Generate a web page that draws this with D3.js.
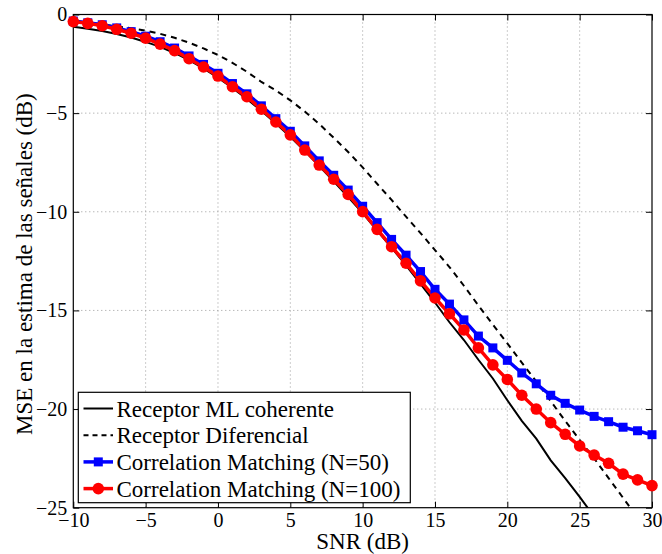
<!DOCTYPE html>
<html>
<head>
<meta charset="utf-8">
<script src="https://cdn.jsdelivr.net/npm/d3@7"></script>
<style>
  html, body { margin: 0; padding: 0; background: #fff; }
  svg { display: block; }
  text { font-family: "Liberation Serif", "Times New Roman", serif; }
</style>
</head>
<body>
<div id="chart"></div>
<script>
// SNR axis, one sample per dB
const snr = d3.range(-10, 31, 1);

// MSE (dB) of the signal estimate for each receiver
const mlCoherente = [-0.62, -0.72, -0.84, -0.99, -1.17, -1.39, -1.64, -1.95, -2.31, -2.73,
  -3.2, -3.72, -4.28, -4.88, -5.52, -6.2, -6.92, -7.68, -8.45, -9.25,
  -10.07, -10.95, -11.82, -12.72, -13.65, -14.6, -15.6, -16.5, -17.5, -18.45,
  -19.55, -20.6, -21.5, -22.6, -23.5, -24.45, -25.45, -26.4, -27.4, -28.4, -29.4];

const diferencial = [-0.35, -0.42, -0.5, -0.6, -0.7, -0.82, -0.98, -1.18, -1.43, -1.72,
  -2.05, -2.45, -2.9, -3.42, -3.85, -4.35, -4.92, -5.55, -6.25, -6.97,
  -7.75, -8.58, -9.4, -10.25, -11.08, -11.94, -12.8, -13.75, -14.75, -15.72,
  -16.67, -17.65, -18.6, -19.6, -20.6, -21.57, -22.5, -23.5, -24.5, -25.5, -26.5];

const cm50 = [-0.33, -0.42, -0.52, -0.68, -0.87, -1.1, -1.38, -1.7, -2.1, -2.53,
  -2.98, -3.5, -4.02, -4.63, -5.28, -5.92, -6.66, -7.42, -8.15, -8.9,
  -9.72, -10.55, -11.4, -12.2, -13.03, -13.93, -14.68, -15.48, -16.3, -16.9,
  -17.53, -18.17, -18.72, -19.3, -19.71, -20.05, -20.37, -20.64, -20.92, -21.1, -21.3];

const cm100 = [-0.36, -0.45, -0.57, -0.75, -0.95, -1.2, -1.5, -1.83, -2.24, -2.66,
  -3.12, -3.66, -4.17, -4.8, -5.45, -6.1, -6.87, -7.63, -8.35, -9.12,
  -9.99, -10.89, -11.77, -12.61, -13.5, -14.37, -15.17, -15.99, -16.9, -17.76,
  -18.5, -19.3, -20.0, -20.69, -21.28, -21.87, -22.33, -22.75, -23.3, -23.59, -23.88];

const xTicks = [-10, -5, 0, 5, 10, 15, 20, 25, 30];
const yTicks = [-25, -20, -15, -10, -5, 0];

const legendLabels = [
  "Receptor ML coherente",
  "Receptor Diferencial",
  "Correlation Matching (N=50)",
  "Correlation Matching (N=100)"
];

const W = 662, H = 554;
const box = { left: 73.3, right: 652, top: 14.5, bottom: 507.7 };

const x = d3.scaleLinear().domain([-10, 30]).range([box.left, box.right]);
const y = d3.scaleLinear().domain([-25, 0]).range([box.bottom, box.top]);

const svg = d3.select("#chart").append("svg")
  .attr("width", W).attr("height", H);

svg.append("defs").append("clipPath").attr("id", "plotClip")
  .append("rect")
  .attr("x", box.left).attr("y", box.top)
  .attr("width", box.right - box.left).attr("height", box.bottom - box.top);

// dotted grid
const grid = svg.append("g").attr("stroke", "#9a9a9a").attr("stroke-width", 1)
  .attr("stroke-dasharray", "1,3");
grid.selectAll("line.gx").data(xTicks.slice(1, -1)).join("line")
  .attr("x1", d => x(d)).attr("x2", d => x(d))
  .attr("y1", box.top).attr("y2", box.bottom);
grid.selectAll("line.gy").data(yTicks.slice(1, -1)).join("line")
  .attr("x1", box.left).attr("x2", box.right)
  .attr("y1", d => y(d)).attr("y2", d => y(d));

// axes with inward ticks on all four sides
const tick = 6;
const fmt = d3.format("d");
const axB = svg.append("g").attr("transform", `translate(0,${box.bottom})`)
  .call(d3.axisBottom(x).tickValues(xTicks).tickSize(-tick).tickPadding(5).tickFormat(fmt));
const axL = svg.append("g").attr("transform", `translate(${box.left},0)`)
  .call(d3.axisLeft(y).tickValues(yTicks).tickSize(-tick).tickPadding(6).tickFormat(fmt));
const axT = svg.append("g").attr("transform", `translate(0,${box.top})`)
  .call(d3.axisTop(x).tickValues(xTicks).tickSize(-tick).tickFormat(""));
const axR = svg.append("g").attr("transform", `translate(${box.right},0)`)
  .call(d3.axisRight(y).tickValues(yTicks).tickSize(-tick).tickFormat(""));
[axB, axL, axT, axR].forEach(a => {
  a.select(".domain").remove();
  a.selectAll(".tick line").attr("stroke", "#000").attr("stroke-width", 1);
  a.selectAll("text").attr("fill", "#000").style("font-size", "20px")
    .style("font-family", "'Liberation Serif', 'Times New Roman', serif");
});
axB.selectAll("text").attr("dy", "0.71em");

svg.append("rect")
  .attr("x", box.left).attr("y", box.top)
  .attr("width", box.right - box.left).attr("height", box.bottom - box.top)
  .attr("fill", "none").attr("stroke", "#000").attr("stroke-width", 1.2);

// curves
const line = d3.line().x((d, i) => x(snr[i])).y(d => y(d));
const curves = svg.append("g").attr("clip-path", "url(#plotClip)");

curves.append("path").datum(mlCoherente).attr("d", line)
  .attr("fill", "none").attr("stroke", "#000").attr("stroke-width", 2);
curves.append("path").datum(diferencial).attr("d", line)
  .attr("fill", "none").attr("stroke", "#000").attr("stroke-width", 2)
  .attr("stroke-dasharray", "6,5");
curves.append("path").datum(cm50).attr("d", line)
  .attr("fill", "none").attr("stroke", "#0000ff").attr("stroke-width", 3.5);

const sq = 9;
svg.append("g").selectAll("rect").data(cm50).join("rect")
  .attr("x", (d, i) => x(snr[i]) - sq / 2).attr("y", d => y(d) - sq / 2)
  .attr("width", sq).attr("height", sq).attr("fill", "#0000ff");

curves.append("path").datum(cm100).attr("d", line)
  .attr("fill", "none").attr("stroke", "#ff0000").attr("stroke-width", 3.5);
svg.append("g").selectAll("circle").data(cm100).join("circle")
  .attr("cx", (d, i) => x(snr[i])).attr("cy", d => y(d))
  .attr("r", 5.8).attr("fill", "#ff0000");

// axis titles
svg.append("text")
  .attr("x", (box.left + box.right) / 2).attr("y", 549)
  .attr("text-anchor", "middle").style("font-size", "23px")
  .text("SNR (dB)");
svg.append("text")
  .attr("transform", `translate(32,${(box.top + box.bottom) / 2 + 3}) rotate(-90)`)
  .attr("text-anchor", "middle").style("font-size", "23px")
  .text("MSE en la estima de las señales (dB)");

// legend
const lg = svg.append("g");
lg.append("rect").attr("x", 78.3).attr("y", 392.3).attr("width", 332).attr("height", 110.4)
  .attr("fill", "#fff").attr("stroke", "#000").attr("stroke-width", 1.2);
const rowY = i => 408.5 + i * 26.7;
const styles = [
  { stroke: "#000", w: 2, dash: null, marker: null },
  { stroke: "#000", w: 2, dash: "5,4", marker: null },
  { stroke: "#0000ff", w: 3.5, dash: null, marker: "square" },
  { stroke: "#ff0000", w: 3.5, dash: null, marker: "circle" }
];
legendLabels.forEach((lab, i) => {
  const s = styles[i];
  const yy = rowY(i);
  lg.append("line").attr("x1", 83.5).attr("x2", 113).attr("y1", yy).attr("y2", yy)
    .attr("stroke", s.stroke).attr("stroke-width", s.w)
    .attr("stroke-dasharray", s.dash);
  if (s.marker === "square") {
    lg.append("rect").attr("x", 98.3 - sq / 2).attr("y", yy - sq / 2)
      .attr("width", sq).attr("height", sq).attr("fill", s.stroke);
  } else if (s.marker === "circle") {
    lg.append("circle").attr("cx", 98.3).attr("cy", yy).attr("r", 5.8).attr("fill", s.stroke);
  }
  lg.append("text").attr("x", 116.5).attr("y", yy).attr("dy", "0.35em")
    .style("font-size", "23px").text(lab);
});
</script>
</body>
</html>
